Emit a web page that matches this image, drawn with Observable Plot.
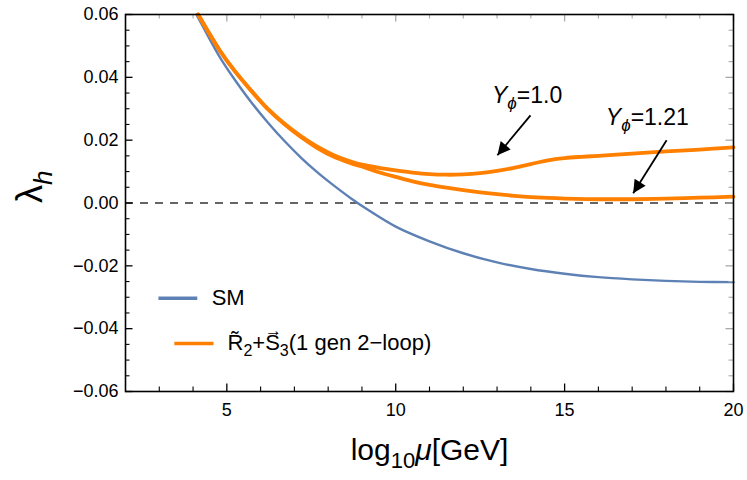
<!DOCTYPE html>
<html><head><meta charset="utf-8">
<script src="https://cdn.jsdelivr.net/npm/d3@7"></script>
<script src="https://cdn.jsdelivr.net/npm/@observablehq/plot@0.6"></script>
<style>
body{margin:0;background:#fff;}
#chart{width:747px;height:480px;}
</style>
</head><body><div id="chart"></div>
<script>
// ---- data ----
const smX = [4.1, 4.4, 4.8, 5.2, 5.7, 6.2, 6.7, 7.2, 7.7, 8.2, 8.7, 9.2, 10, 11, 12, 13, 14, 15, 16, 17, 18, 19, 20];
const smY = [0.0600, 0.0540, 0.0463, 0.0398, 0.0324, 0.0258, 0.0198, 0.0144, 0.0096, 0.0053, 0.0013, -0.0023, -0.0075, -0.0122, -0.0160, -0.0189, -0.0210, -0.0225, -0.0236, -0.0243, -0.0248, -0.0251, -0.0252];

const y10X = [4.15, 4.45, 4.8, 5.22, 5.71, 6.2, 6.7, 7.19, 7.68, 8.17, 8.67, 9, 9.5, 10, 10.5, 11, 11.5, 12, 12.5, 13, 13.5, 14, 14.5, 15, 15.5, 16, 17, 18, 19, 20];
const y10Y = [0.0600, 0.0545, 0.0484, 0.0422, 0.0359, 0.0301, 0.0253, 0.0213, 0.0179, 0.0152, 0.0132, 0.0122, 0.0112, 0.0104, 0.0097, 0.0092, 0.0090, 0.0091, 0.0095, 0.0102, 0.0112, 0.0124, 0.0136, 0.0143, 0.0147, 0.0150, 0.0157, 0.0164, 0.0170, 0.0177];

const y121X = [4.15, 4.45, 4.8, 5.22, 5.71, 6.2, 6.7, 7.19, 7.68, 8.17, 8.67, 9, 9.5, 10, 10.5, 11, 11.5, 12, 12.5, 13, 13.5, 14, 14.5, 15, 16, 17, 18, 19, 20];
const y121Y = [0.0600, 0.0545, 0.0484, 0.0422, 0.0359, 0.0300, 0.0251, 0.0210, 0.0175, 0.0147, 0.0127, 0.0116, 0.0098, 0.0083, 0.0069, 0.0058, 0.0049, 0.0041, 0.0034, 0.0028, 0.0023, 0.0019, 0.0016, 0.0014, 0.0012, 0.0012, 0.0014, 0.0017, 0.0020];

const xTickLabels = [5, 10, 15, 20];
const xMinorTicks = [3, 4, 6, 7, 8, 9, 11, 12, 13, 14, 16, 17, 18, 19];
const yTickLabels = [-0.06, -0.04, -0.02, 0, 0.02, 0.04, 0.06];
const yMinorTicks = [-0.055, -0.05, -0.045, -0.035, -0.03, -0.025, -0.015, -0.01, -0.005, 0.005, 0.01, 0.015, 0.025, 0.03, 0.035, 0.045, 0.05, 0.055];

const seriesNames = ["SM", "R\u03032+S3(1 gen 2\u2212loop)"];
const annotationLabels = ["Y\u03D5=1.0", "Y\u03D5=1.21"];

// annotation placement (data coordinates)
const annotationPos = [{x: 12.85, y: 0.0343}, {x: 16.22, y: 0.0273}];
const arrowPos = [{x1: 13.99, y1: 0.0279, x2: 13.01, y2: 0.0152}, {x1: 18.02, y1: 0.0200, x2: 17.03, y2: 0.0031}];
const legendPos = [{x1: 2.99, x2: 4.14, y: -0.0303, tx: 4.55}, {x1: 3.46, x2: 4.62, y: -0.0447, tx: 5.02}];

// ---- styles ----
const BLUE = "#5E81B5", ORANGE = "#FF8000";
const W = 747, H = 480, ML = 125, MR = 14, MT = 14, MB = 89;
const FW = W - ML - MR, FH = H - MT - MB;
const FONT = "'Liberation Sans', Arial, Helvetica, sans-serif";

const sm = smX.map((x, i) => ({x, y: smY[i]}));
const s10 = y10X.map((x, i) => ({x, y: y10Y[i]}));
const s121 = y121X.map((x, i) => ({x, y: y121Y[i]}));
const annotations = annotationLabels.map((label, i) => ({label, ...annotationPos[i]}));
const legend = seriesNames.map((name, i) => ({name, ...legendPos[i]}));

const plot = Plot.plot({
  width: W, height: H,
  marginLeft: ML, marginRight: MR, marginTop: MT, marginBottom: MB,
  style: {fontFamily: FONT, color: "black", background: "white", overflow: "visible"},
  x: {domain: [2, 20]},
  y: {domain: [-0.06, 0.06]},
  marks: [
    Plot.ruleY([0], {stroke: "#333", strokeWidth: 1.4, strokeDasharray: "8,7"}),
    Plot.line(sm, {x: "x", y: "y", stroke: BLUE, strokeWidth: 2.4, curve: "catmull-rom"}),
    Plot.line(s121, {x: "x", y: "y", stroke: ORANGE, strokeWidth: 3.8, curve: "catmull-rom"}),
    Plot.line(s10, {x: "x", y: "y", stroke: ORANGE, strokeWidth: 3.8, curve: "catmull-rom"}),
    // ticks: bottom/left black, top/right gray
    Plot.ruleX(xMinorTicks, {x: d => d, insetTop: FH - 4.5, stroke: "black", strokeWidth: 1.1}),
    Plot.ruleX(xTickLabels, {x: d => d, insetTop: FH - 7.5, stroke: "black", strokeWidth: 1.3}),
    Plot.ruleX(xMinorTicks, {x: d => d, insetBottom: FH - 4.5, stroke: "#aaa", strokeWidth: 1.1}),
    Plot.ruleX(xTickLabels, {x: d => d, insetBottom: FH - 7.5, stroke: "#aaa", strokeWidth: 1.3}),
    Plot.ruleY(yMinorTicks, {y: d => d, insetRight: FW - 4.5, stroke: "black", strokeWidth: 1.1}),
    Plot.ruleY(yTickLabels, {y: d => d, insetRight: FW - 7.5, stroke: "black", strokeWidth: 1.3}),
    Plot.ruleY(yMinorTicks, {y: d => d, insetLeft: FW - 4.5, stroke: "#aaa", strokeWidth: 1.1}),
    Plot.ruleY(yTickLabels, {y: d => d, insetLeft: FW - 7.5, stroke: "#aaa", strokeWidth: 1.3}),
    Plot.axisX(xTickLabels, {tickSize: 0, tickPadding: 12, fontSize: 18, label: null}),
    Plot.axisY(yTickLabels, {tickSize: 0, tickPadding: 7, fontSize: 18, tickFormat: d3.format(".2f"), label: null}),
    Plot.frame({stroke: "black", strokeWidth: 1.6}),
    // legend
    Plot.ruleY(legend.slice(0, 1), {y: "y", x1: "x1", x2: "x2", stroke: BLUE, strokeWidth: 3.6}),
    Plot.ruleY(legend.slice(1), {y: "y", x1: "x1", x2: "x2", stroke: ORANGE, strokeWidth: 3.6}),
    Plot.text(legend, {x: "tx", y: "y", text: "name", textAnchor: "start", fontSize: 22, fill: "black"}),
    // annotations
    Plot.text(annotations, {x: "x", y: "y", text: "label", textAnchor: "start", fontSize: 23, fill: "black"}),
    Plot.link(arrowPos, {x1: "x1", y1: "y1", x2: "x2", y2: "y2", stroke: "black", strokeWidth: 1.8}),
    // axis titles
    Plot.text(["\u03BBh"], {frameAnchor: "left", dx: -95, rotate: -90, fontSize: 36, fill: "black"}),
    Plot.text(["log10\u03BC[GeV]"], {frameAnchor: "bottom", dy: 68, fontSize: 30, fill: "black"})
  ]
});

document.getElementById("chart").appendChild(plot);

// ---- rich text: subscripts / italics / accents ----
const svg = d3.select(plot);
function rich(el, parts, base) {
  const t = d3.select(el);
  t.text(null);
  let shift = 0;
  parts.forEach(p => {
    const s = t.append("tspan").text(p.t);
    const target = p.sub ? Math.round(base * 0.28) : (p.raise ? -p.raise : 0);
    if (target !== shift) { s.attr("dy", target - shift); shift = target; }
    if (p.sub) s.attr("font-size", Math.round(base * 0.72));
    if (p.size) s.attr("font-size", p.size);
    if (p.it) s.attr("font-style", "italic");
    if (p.dx !== undefined) s.attr("dx", p.dx);
    p.node = s.node();
  });
  return parts;
}
svg.selectAll("text").each(function() {
  const txt = this.textContent;
  if (txt === "\u03BBh") rich(this, [{t: "\u03BB"}, {t: "h", sub: true, it: true}], 36);
  else if (txt === "log10\u03BC[GeV]") rich(this, [{t: "log"}, {t: "10", sub: true}, {t: "\u03BC", it: true}, {t: "[GeV]"}], 30);
  else if (txt === annotationLabels[0]) rich(this, [{t: "Y", it: true}, {t: "\u03D5", sub: true, it: true}, {t: "=1.0"}], 23);
  else if (txt === annotationLabels[1]) rich(this, [{t: "Y", it: true}, {t: "\u03D5", sub: true, it: true}, {t: "=1.21"}], 23);
  else if (txt === seriesNames[1]) {
    const parts = rich(this, [
      {t: "R\u0303"}, {t: "2", sub: true}, {t: "+"}, {t: "S"},
      {t: "\u2192", raise: 14, size: 17}, {t: "3", sub: true}, {t: "(1 gen 2\u2212loop)"}
    ], 22);
    // centre the arrow over the S
    const sw = parts[3].node.getComputedTextLength();
    const aw = parts[4].node.getComputedTextLength();
    d3.select(parts[4].node).attr("dx", -sw + (sw - aw) / 2 + 1);
    d3.select(parts[5].node).attr("dx", (sw - aw) / 2 - 1);
  }
});

// filled arrow heads
const defs = svg.insert("defs", ":first-child");
defs.append("marker")
  .attr("id", "ahead").attr("viewBox", "0 0 10 10").attr("refX", 10).attr("refY", 5)
  .attr("markerUnits", "userSpaceOnUse").attr("markerWidth", 19).attr("markerHeight", 13)
  .attr("orient", "auto")
  .append("path").attr("d", "M0,0L10,5L0,10z").attr("fill", "black");
svg.selectAll("g[aria-label='link'] path").attr("marker-end", "url(#ahead)");
</script>
</body></html>
